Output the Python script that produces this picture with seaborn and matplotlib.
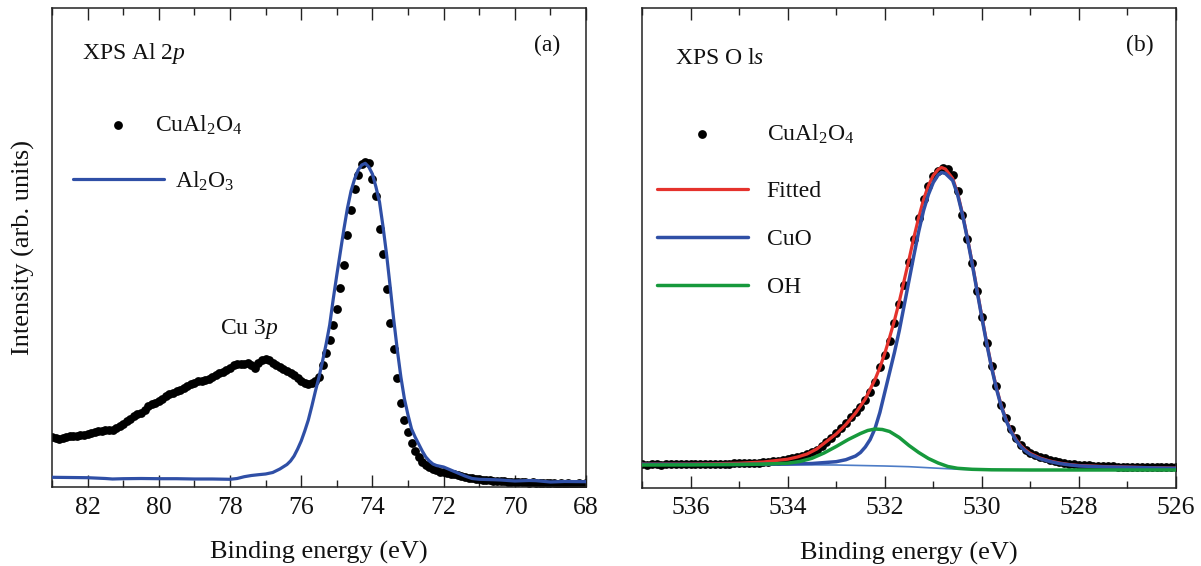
import matplotlib
matplotlib.use("Agg")
import matplotlib.pyplot as plt
from matplotlib.ticker import MultipleLocator
import seaborn as sns

# =======================
## DADOS - PAINEL (a) XPS Al 2p
# =======================

# Energia de ligação dos pontos (eV)
al_dot_be = [
    83.0, 82.9, 82.8, 82.7, 82.6, 82.5, 82.4, 82.3, 82.2, 82.1,
    82.0, 81.9, 81.8, 81.7, 81.6, 81.5, 81.4, 81.3, 81.2, 81.1,
    81.0, 80.9, 80.8, 80.7, 80.6, 80.5, 80.4, 80.3, 80.2, 80.1,
    80.0, 79.9, 79.8, 79.7, 79.6, 79.5, 79.4, 79.3, 79.2, 79.1,
    79.0, 78.9, 78.8, 78.7, 78.6, 78.5, 78.4, 78.3, 78.2, 78.1,
    78.0, 77.9, 77.8, 77.7, 77.6, 77.5, 77.4, 77.3, 77.2, 77.1,
    77.0, 76.9, 76.8, 76.7, 76.6, 76.5, 76.4, 76.3, 76.2, 76.1,
    76.0, 75.9, 75.8, 75.7, 75.6, 75.5, 75.4, 75.3, 75.2, 75.1,
    75.0, 74.9, 74.8, 74.7, 74.6, 74.5, 74.4, 74.3, 74.2, 74.1,
    74.0, 73.9, 73.8, 73.7, 73.6, 73.5, 73.4, 73.3, 73.2, 73.1,
    73.0, 72.9, 72.8, 72.7, 72.6, 72.5, 72.4, 72.3, 72.2, 72.1,
    72.0, 71.9, 71.8, 71.7, 71.6, 71.5, 71.4, 71.3, 71.2, 71.1,
    71.0, 70.9, 70.8, 70.7, 70.6, 70.5, 70.4, 70.3, 70.2, 70.1,
    70.0, 69.9, 69.8, 69.7, 69.6, 69.5, 69.4, 69.3, 69.2, 69.1,
    69.0, 68.9, 68.8, 68.7, 68.6, 68.5, 68.4, 68.3, 68.2, 68.1,
    68.0,
]
# Intensidade CuAl2O4 (u.a.)
al_dot_int = [
    50, 49.5, 48.5, 49, 50, 51, 51.5, 51, 52.5, 52,
    53.5, 54.5, 55, 56, 56.5, 57, 57, 57.5, 59, 61.5,
    63.5, 66, 68.5, 71, 73, 74.5, 77, 81, 83.5, 84,
    86.5, 88.5, 91, 93, 94.5, 96, 97.5, 99, 101.5, 103,
    104.5, 106, 106.5, 107, 108, 110, 112, 114.5, 115.5, 117,
    119.5, 122.5, 123, 123.5, 123.5, 124, 122, 119.5, 124, 127,
    128.5, 127, 124.5, 122.5, 120, 118, 116, 114, 112, 109,
    106, 104, 103.5, 104, 106, 110, 122, 134, 147, 162,
    178, 199, 222, 252, 277, 298, 312, 323, 325.5, 324,
    308, 291, 258, 233, 198, 164, 138, 109, 84, 67,
    55, 44, 36, 30, 25.5, 22.5, 20, 18, 17, 15.5,
    15, 14.5, 13.5, 12.7, 12, 11.5, 10.5, 9.5, 9, 8.5,
    8, 7.5, 7, 7, 6.5, 6.5, 6, 6, 5.5, 5.5,
    5.5, 5, 5.5, 5, 4.5, 5, 4.5, 4.5, 4, 4.5,
    4, 4, 3.5, 4, 3.5, 4, 3.5, 3.5, 4, 3.5,
    4,
]

# Referência Al2O3 (linha azul)
al_ref_be = [
    83.0, 82.5, 82.0, 81.5, 81.3, 81.0, 80.5, 80.0, 79.5, 79.0,
    78.5, 78.0, 77.8, 77.6, 77.4, 77.2, 77.0, 76.8, 76.6, 76.4,
    76.3, 76.2, 76.1, 76.0, 75.9, 75.8, 75.7, 75.6, 75.5, 75.4,
    75.3, 75.2, 75.1, 75.0, 74.9, 74.8, 74.7, 74.6, 74.5, 74.4,
    74.3, 74.2, 74.1, 74.0, 73.9, 73.8, 73.7, 73.6, 73.5, 73.4,
    73.3, 73.2, 73.1, 73.0, 72.9, 72.8, 72.7, 72.6, 72.5, 72.4,
    72.3, 72.2, 72.0, 71.8, 71.6, 71.4, 71.2, 71.0, 70.6, 70.4,
    70.0, 69.6, 69.4, 69.0, 68.6, 68.0,
]
al_ref_int = [
    9.7, 9.5, 9.3, 8.5, 8, 8.3, 8.5, 8.3, 8.3, 8,
    8, 7.7, 8.5, 10.3, 11.5, 12.3, 13, 14.5, 18, 22.5,
    26, 31, 38, 46, 56, 67, 81, 96, 110, 126,
    143, 162, 188, 212, 235, 258, 279, 296, 308, 317,
    322, 323.7, 320, 313, 300, 285, 260, 232, 200, 167,
    137, 110, 88, 72, 58, 50, 43, 36, 30, 26,
    23, 21.5, 20, 17, 14, 11, 8.5, 7.7, 7.3, 7,
    6, 6.5, 6.3, 5, 5.5, 5.3,
]

# =======================
## DADOS - PAINEL (b) XPS O 1s
# =======================

o_dot_be = [
    537.0, 536.9, 536.8, 536.7, 536.6, 536.5, 536.4, 536.3, 536.2, 536.1,
    536.0, 535.9, 535.8, 535.7, 535.6, 535.5, 535.4, 535.3, 535.2, 535.1,
    535.0, 534.9, 534.8, 534.7, 534.6, 534.5, 534.4, 534.3, 534.2, 534.1,
    534.0, 533.9, 533.8, 533.7, 533.6, 533.5, 533.4, 533.3, 533.2, 533.1,
    533.0, 532.9, 532.8, 532.7, 532.6, 532.5, 532.4, 532.3, 532.2, 532.1,
    532.0, 531.9, 531.8, 531.7, 531.6, 531.5, 531.4, 531.3, 531.2, 531.1,
    531.0, 530.9, 530.8, 530.7, 530.6, 530.5, 530.4, 530.3, 530.2, 530.1,
    530.0, 529.9, 529.8, 529.7, 529.6, 529.5, 529.4, 529.3, 529.2, 529.1,
    529.0, 528.9, 528.8, 528.7, 528.6, 528.5, 528.4, 528.3, 528.2, 528.1,
    528.0, 527.9, 527.8, 527.7, 527.6, 527.5, 527.4, 527.3, 527.2, 527.1,
    527.0, 526.9, 526.8, 526.7, 526.6, 526.5, 526.4, 526.3, 526.2, 526.1,
    526.0,
]
o_dot_int = [
    23.3, 23.0, 23.4, 23.2, 23.0, 23.3, 23.1, 23.4, 23.2, 23.5,
    23.3, 23.6, 23.4, 23.7, 23.5, 23.8, 23.7, 24.0, 24.0, 24.3,
    24.2, 24.5, 24.6, 24.9, 25.0, 25.4, 26.0, 26.4, 27.0, 27.6,
    28.3, 29.2, 30.3, 31.6, 33.2, 35.5, 38.0, 41.5, 45.8, 50.0,
    54.5, 59.5, 65.0, 70.5, 75.5, 81.0, 88.0, 96.0, 106.0, 121.0,
    133.0, 147.0, 165.0, 184.0, 203.0, 226.0, 249.0, 270.0, 289.0, 302.0,
    312.0, 317.0, 319.5, 318.5, 312.5, 297.0, 273.0, 249.0, 225.0, 197.0,
    171.0, 145.0, 122.0, 102.0, 83.0, 70.0, 59.0, 50.0, 43.0, 37.5,
    34.5, 32.3, 30.5, 29.2, 27.8, 26.8, 25.8, 24.8, 24.0, 23.4,
    23.0, 22.5, 22.2, 22.0, 21.6, 21.4, 21.3, 21.1, 21.0, 20.9,
    20.8, 20.7, 20.6, 20.6, 20.5, 20.4, 20.4, 20.3, 20.3, 20.2,
    20.2,
]

# Ajuste total (vermelho)
fit_be = [
    537.0, 536.0, 535.5, 535.0, 534.5, 534.0, 533.8, 533.6, 533.4, 533.2,
    533.0, 532.8, 532.6, 532.4, 532.2, 532.1, 532.0, 531.9, 531.8, 531.7,
    531.6, 531.5, 531.4, 531.3, 531.2, 531.1, 531.0, 530.9, 530.83, 530.75,
    530.6, 530.5, 530.4, 530.3, 530.2, 530.1, 530.0, 529.9, 529.8, 529.7,
    529.6, 529.5, 529.4, 529.3, 529.2, 529.1, 529.0, 528.8, 528.6, 528.4,
    528.2, 528.0, 527.5, 527.0, 526.5, 526.0,
]
fit_int = [
    23.4, 23.5, 23.8, 24.3, 25.5, 28.3, 30.5, 33.5, 38.5, 46,
    53.5, 63, 74.5, 88.5, 108, 120, 134, 150, 167, 186,
    207, 228, 250, 270, 288, 302, 312, 318, 320, 318.5,
    309, 294.5, 274, 250.5, 225, 198, 171, 145, 121, 100,
    82, 68, 57, 48.5, 42, 37.5, 34, 29.5, 26.5, 24.5,
    23, 22, 21, 20.4, 19.8, 19.4,
]

# Componente CuO (azul)
cuo_be = [
    537.0, 536.0, 535.0, 534.5, 534.0, 533.5, 533.0, 532.8, 532.6, 532.5,
    532.4, 532.3, 532.2, 532.1, 532.0, 531.9, 531.8, 531.7, 531.6, 531.5,
    531.4, 531.3, 531.2, 531.1, 531.0, 530.9, 530.83, 530.75, 530.6, 530.5,
    530.4, 530.3, 530.2, 530.1, 530.0, 529.9, 529.8, 529.7, 529.6, 529.5,
    529.4, 529.3, 529.2, 529.1, 529.0, 528.8, 528.6, 528.4, 528.2, 528.0,
    527.5, 527.0, 526.5, 526.0,
]
cuo_int = [
    23.2, 23.1, 23.1, 23.2, 23.4, 24.0, 25.8, 27.8, 31.5, 35,
    40.5, 48, 59, 75, 95, 115, 135, 157, 182, 207,
    232, 256, 277, 293, 305, 312.5, 315, 314, 307, 293,
    273, 249.5, 224, 197, 170, 144, 120, 99, 81, 67,
    56, 47.5, 41, 36.5, 33, 28.8, 26, 24, 22.7, 21.6,
    20.6, 20.2, 19.6, 19.2,
]

# Componente OH (verde)
oh_be = [
    537.0, 536.0, 535.0, 534.5, 534.0, 533.75, 533.5, 533.25, 533.0, 532.75,
    532.5, 532.35, 532.2, 532.05, 531.9, 531.7, 531.5, 531.3, 531.1, 530.9,
    530.7, 530.5, 530.2, 529.8, 529.0, 528.0, 527.0, 526.0,
]
oh_int = [
    22.5, 22.6, 23.0, 23.4, 24.3, 26.0, 29.2, 34.5, 41.0, 48.0,
    54.0, 57.0, 58.5, 58.0, 56.0, 50.0, 42.0, 35.0, 29.0, 24.5,
    21.0, 19.2, 18.2, 17.7, 17.5, 17.5, 17.5, 17.5,
]

# Linha de base (azul fina, sem legenda)
bg_be = [537.0, 535.0, 533.0, 532.0, 531.5, 531.0, 530.5, 530.0, 529.0, 526.0]
bg_int = [23.6, 23.2, 22.5, 21.5, 20.8, 19.5, 18.3, 17.8, 17.5, 17.5]

# Cores
AZUL = "#2f4fa6"
AZUL_CLARO = "#4d7cc6"
VERMELHO = "#e5322c"
VERDE = "#16993c"

# =======================
## ESTILO
# =======================

sns.set_theme(style="ticks")
plt.rcParams.update({
    "font.family": ["Liberation Serif", "DejaVu Serif"],
    "mathtext.fontset": "custom",
    "mathtext.rm": "Liberation Serif",
    "mathtext.it": "Liberation Serif:italic",
    "axes.edgecolor": "#222222",
    "axes.linewidth": 1.1,
    "text.color": "#111111",
    "axes.labelcolor": "#111111",
    "xtick.color": "#222222",
    "xtick.labelcolor": "#111111",
})

fig = plt.figure(figsize=(12.01, 5.66), dpi=100)
ax1 = fig.add_axes([52 / 1201, 1 - 487 / 566, 534 / 1201, 479 / 566])
ax2 = fig.add_axes([642 / 1201, 1 - 487.5 / 566, 534 / 1201, 479.5 / 566])

FS_TXT = 17
leg_kw = dict(frameon=False, fontsize=FS_TXT, handlelength=3.86,
              borderpad=0, borderaxespad=0)

# =======================
## PAINEL (a)
# =======================

sns.scatterplot(x=al_dot_be, y=al_dot_int, ax=ax1, color="black", s=40,
                linewidth=0, label="CuAl$_2$O$_4$", zorder=2)
sns.lineplot(x=al_ref_be, y=al_ref_int, ax=ax1, color=AZUL, linewidth=2.3,
             label="Al$_2$O$_3$", estimator=None, sort=False, zorder=3)

h, l = ax1.get_legend_handles_labels()
leg_a = ax1.legend([h[0]], [l[0]], loc="center left", bbox_to_anchor=(0.039, 0.756),
                   handletextpad=-0.4, **leg_kw)
ax1.add_artist(leg_a)
ax1.legend([h[1]], [l[1]], loc="center left", bbox_to_anchor=(0.040, 0.639),
           handletextpad=0.45, **leg_kw)

ax1.text(0.056, 0.906, "XPS Al 2$p$", transform=ax1.transAxes,
         fontsize=FS_TXT, ha="left", va="center")
ax1.text(0.927, 0.921, "(a)", transform=ax1.transAxes,
         fontsize=FS_TXT, ha="center", va="center")
ax1.text(77.46, 158, "Cu 3$p$", fontsize=FS_TXT, ha="center", va="center")

ax1.set_xlim(83, 68)
ax1.set_ylim(0, 479)
ax1.set_ylabel("Intensity (arb. units)", fontsize=19, labelpad=12)

# =======================
## PAINEL (b)
# =======================

sns.scatterplot(x=o_dot_be, y=o_dot_int, ax=ax2, color="black", s=40,
                linewidth=0, label="CuAl$_2$O$_4$", zorder=2)
sns.lineplot(x=bg_be, y=bg_int, ax=ax2, color=AZUL_CLARO, linewidth=1.2,
             estimator=None, sort=False, zorder=3)
sns.lineplot(x=fit_be, y=fit_int, ax=ax2, color=VERMELHO, linewidth=2.3,
             label="Fitted", estimator=None, sort=False, zorder=4)
sns.lineplot(x=cuo_be, y=cuo_int, ax=ax2, color=AZUL, linewidth=2.5,
             label="CuO", estimator=None, sort=False, zorder=5)
sns.lineplot(x=oh_be, y=oh_int, ax=ax2, color=VERDE, linewidth=2.5,
             label="OH", estimator=None, sort=False, zorder=6)

h, l = ax2.get_legend_handles_labels()
leg_b = ax2.legend([h[0]], [l[0]], loc="center left", bbox_to_anchor=(0.0275, 0.737),
                   handletextpad=0.8, **leg_kw)
ax2.add_artist(leg_b)
ax2.legend(h[1:], l[1:], loc="center left", bbox_to_anchor=(0.0275, 0.5176),
           handletextpad=0.8, labelspacing=1.12, **leg_kw)

ax2.text(0.062, 0.894, "XPS O l$s$", transform=ax2.transAxes,
         fontsize=FS_TXT, ha="left", va="center")
ax2.text(0.933, 0.921, "(b)", transform=ax2.transAxes,
         fontsize=FS_TXT, ha="center", va="center")

ax2.set_xlim(537, 526)
ax2.set_ylim(0, 479.5)

# Eixos comuns
for ax in (ax1, ax2):
    ax.xaxis.set_major_locator(MultipleLocator(2))
    ax.xaxis.set_minor_locator(MultipleLocator(1))
    ax.tick_params(axis="x", which="both", direction="in", top=True, bottom=True,
                   labelsize=18.5, pad=7)
    ax.tick_params(axis="x", which="major", length=8.5, width=1.0)
    ax.tick_params(axis="x", which="minor", length=5, width=1.0)
    ax.set_yticks([])
    ax.set_xlabel("Binding energy (eV)", fontsize=19, labelpad=16)
    for s in ax.spines.values():
        s.set_visible(True)

fig.savefig("out.png", dpi=100)
